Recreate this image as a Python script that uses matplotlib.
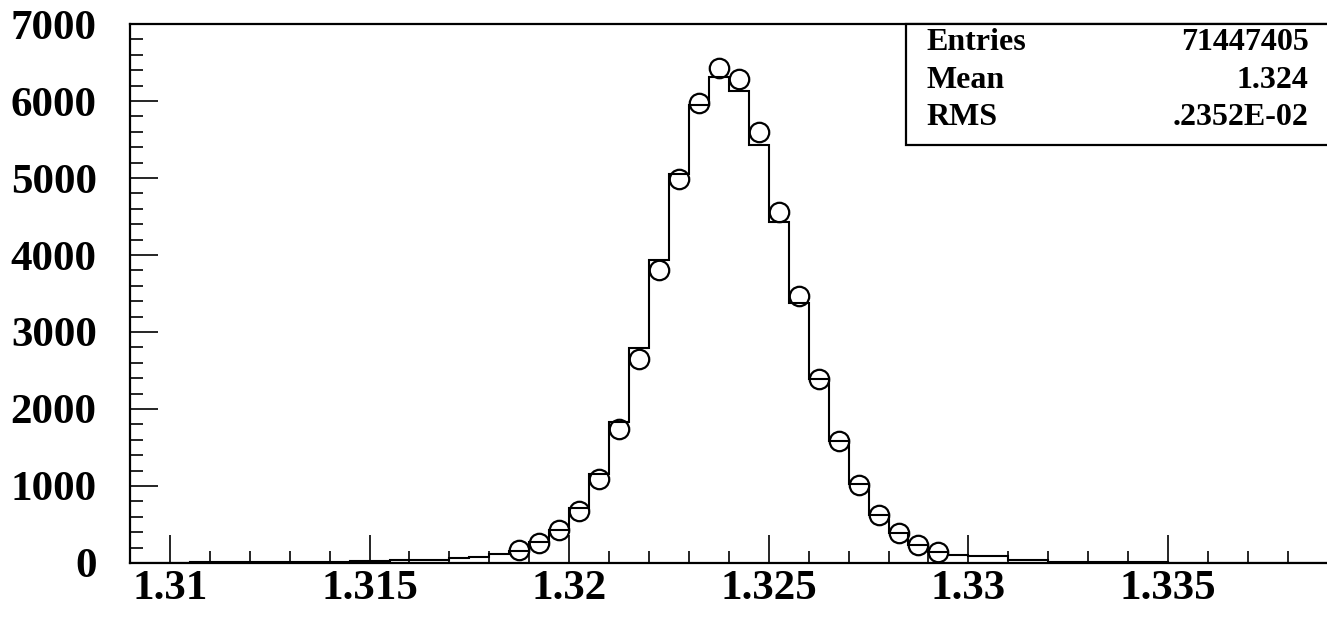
import numpy as np
import matplotlib
matplotlib.use('Agg')
import matplotlib.pyplot as plt
from matplotlib.patches import Rectangle
from matplotlib.ticker import MultipleLocator, FixedFormatter, FixedLocator

# histogram binning: 60 bins of 0.0005 between 1.309 and 1.339
x_lo = 1.309
bin_width = 0.0005
counts = [4, 5, 6, 7, 8, 9, 11, 12, 14, 16,
          19, 22, 32, 35, 42, 45, 62, 75, 117, 150,
          277, 429, 714, 1156, 1835, 2796, 3935, 5052, 5948, 6316,
          6134, 5428, 4433, 3380, 2390, 1584, 1026, 623, 390, 234,
          140, 110, 90, 85, 40, 38, 18, 16, 10, 9,
          8, 7, 6, 5, 4, 4, 3, 3, 2, 2]

# reference points, one per bin starting at bin 19
first_point_bin = 19
points = [169, 260, 429, 675, 1091, 1740, 2649, 3805, 4987, 5974, 6429,
          6286, 5597, 4558, 3468, 2390, 1584, 1013, 623, 390, 234, 143]

x_ticks = [1.31, 1.315, 1.32, 1.325, 1.33, 1.335]
x_tick_labels = ['1.31', '1.315', '1.32', '1.325', '1.33', '1.335']
y_ticks = [0, 1000, 2000, 3000, 4000, 5000, 6000, 7000]

stats_names = ['Entries', 'Mean', 'RMS']
stats_values = ['71447405', '1.324', '.2352E-02']

edges = x_lo + bin_width * np.arange(len(counts) + 1)
centers = x_lo + bin_width * (first_point_bin + np.arange(len(points)) + 0.5)

plt.rcParams['font.family'] = ['Liberation Serif', 'DejaVu Serif']
plt.rcParams['font.weight'] = 'bold'

fig = plt.figure(figsize=(13.27, 6.24), dpi=100)
ax = fig.add_axes([0.098, 0.0978, 0.9025, 0.8637])

ax.stairs(counts, edges, color='black', lw=1.5, zorder=2)
ax.plot(centers, points, 'o', mfc='none', mec='black', ms=14, mew=1.6, zorder=3)

ax.set_xlim(edges[0], edges[-1])
ax.set_ylim(0, 7000)

ax.xaxis.set_major_locator(FixedLocator(x_ticks))
ax.xaxis.set_major_formatter(FixedFormatter(x_tick_labels))
ax.xaxis.set_minor_locator(MultipleLocator(0.001))
ax.yaxis.set_major_locator(FixedLocator(y_ticks))
ax.yaxis.set_minor_locator(MultipleLocator(200))

ax.tick_params(which='both', direction='in', top=False, right=False, width=1.2)
ax.tick_params(which='major', length=20)
ax.tick_params(which='minor', length=9)
ax.tick_params(axis='x', which='major', labelsize=31, pad=5)
ax.tick_params(axis='y', which='major', labelsize=31, pad=24)
for lab in ax.get_xticklabels() + ax.get_yticklabels():
    lab.set_fontweight('bold')

for side in ['left', 'bottom', 'top']:
    ax.spines[side].set_linewidth(1.6)
ax.spines['right'].set_visible(False)

# statistics box in the top right corner
box = Rectangle((0.6475, 0.7755), 0.37, 0.2245, transform=ax.transAxes,
                facecolor='white', edgecolor='black', lw=1.6,
                clip_on=False, zorder=5)
ax.add_patch(box)
rows_y = [0.965, 0.896, 0.826]
for name, val, yy in zip(stats_names, stats_values, rows_y):
    ax.text(0.665, yy, name, transform=ax.transAxes, ha='left', va='center',
            fontsize=23, fontweight='bold', zorder=6)
    ax.text(0.984, yy, val, transform=ax.transAxes, ha='right', va='center',
            fontsize=23, fontweight='bold', zorder=6)

fig.savefig('out.png', dpi=100)
